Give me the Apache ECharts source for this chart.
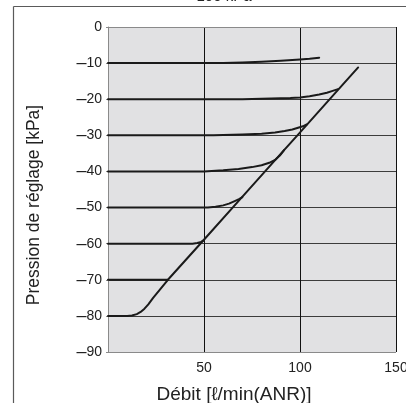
<!DOCTYPE html>
<html>
<head>
<meta charset="utf-8">
<script src="https://cdn.jsdelivr.net/npm/echarts@6/dist/echarts.min.js"></script>
<style>
html,body{margin:0;padding:0;background:#fff;}
#c{width:406px;height:403px;}
</style>
</head>
<body>
<div id="c"></div>
<script>
// ---- data ----
const titleText = "100 kPa";
const xName = "Débit [ℓ/min(ANR)]";
const yName = "Pression de réglage [kPa]";
const xTicks = [0, 50, 100, 150];
const yTicks = [-90, -80, -70, -60, -50, -40, -30, -20, -10, 0];

const s10 = [[0,-10],[40,-10],[60,-10],[70,-9.85],[80,-9.6],[90,-9.35],[100,-9.0],[105,-8.8],[110,-8.5]];
const s20 = [[0,-20],[70,-20],[85,-19.8],[95,-19.65],[100,-19.5],[105,-19.2],[110,-18.7],[114,-18.2],[117,-17.7],[119.8,-17.2]];
const s30 = [[0,-30],[55,-30],[70,-29.8],[80,-29.55],[87,-29.2],[92,-28.8],[96,-28.4],[99,-27.9],[101.5,-27.5],[103.5,-27.0]];
const s40 = [[0,-40],[50,-40],[60,-39.7],[68,-39.3],[75,-38.8],[80,-38.3],[84,-37.6],[87,-36.8],[89.5,-35.6],[91.7,-34.1]];
const s50 = [[0,-50],[52,-50],[56,-49.8],[60,-49.4],[63,-48.9],[66,-48.2],[68.5,-47.6],[70,-47.1]];
const s60 = [[0,-60],[44,-60],[46.5,-59.8],[48.5,-59.5],[50,-59.0]];
const s70 = [[0,-70],[31.2,-70]];
const s80 = [[0,-80],[10,-80],[12.5,-79.9],[15,-79.5],[17,-78.9],[19,-78.0],[21,-76.8],[23.5,-75.0],[31.2,-70.0],[49.5,-59.2],[69.8,-47.1],[91.7,-34.1],[99,-29.8],[119.8,-17.4],[130.3,-11.2]];
const seriesList = [s10, s20, s30, s40, s50, s60, s70, s80];

const chart = echarts.init(document.getElementById('c'), null, {renderer:'canvas'});
const fontFam = '"Liberation Sans", Arial, Helvetica, sans-serif';

const yColors = yTicks.map((v,i)=> (i===0||i===yTicks.length-1) ? '#8a8a8a' : '#3c3c3c');
const xColors = xTicks.map((v,i)=> i===0 ? '#8a8a8a' : '#111111');

function fmtNeg(v){
  if (v < 0) return '{d|–}' + Math.abs(v);
  return String(v);
}

chart.setOption({
  animation:false,
  backgroundColor:'#ffffff',
  grid:{left:108, right:10, top:27, bottom:51, show:true, backgroundColor:'#e1e1e3', borderWidth:0,
        containLabel:false, outerBoundsMode:'none'},
  xAxis:{
    type:'value', min:xTicks[0], max:xTicks[xTicks.length-1], interval:50,
    axisLine:{show:true, lineStyle:{color:'#8a8a8a', width:1}},
    axisTick:{show:false},
    splitLine:{show:true, lineStyle:{color:xColors, width:1}},
    axisLabel:{show:true, showMinLabel:false, showMaxLabel:true, hideOverlap:false, margin:9, color:'#222', fontSize:14, fontFamily:fontFam,
      formatter:(v)=> String(v)}
  },
  yAxis:{
    type:'value', min:yTicks[0], max:yTicks[yTicks.length-1], interval:10,
    axisLine:{show:true, lineStyle:{color:'#8a8a8a', width:1}},
    axisTick:{show:true, length:2, lineStyle:{color:'#8a8a8a'}},
    splitLine:{show:true, lineStyle:{color:yColors, width:1}},
    axisLabel:{show:true, margin:6, color:'#222', fontSize:14, fontFamily:fontFam,
      formatter:fmtNeg, rich:{d:{fontSize:18, fontFamily:fontFam, color:'#222'}}}
  },
  series: seriesList.map(d=>({
    type:'line', data:d, showSymbol:false, smooth:false,
    lineStyle:{color:'#1a1a1a', width:2, join:'round', cap:'round'}, z:5
  })),
  graphic:[
    {type:'line', shape:{x1:13.5,y1:6.5,x2:406,y2:6.5}, style:{stroke:'#5a5a5a', lineWidth:1.2}, z:10},
    {type:'line', shape:{x1:13.5,y1:6.5,x2:13.5,y2:403}, style:{stroke:'#5a5a5a', lineWidth:1.2}, z:10},
    {type:'line', shape:{x1:396.5,y1:27,x2:396.5,y2:352}, style:{stroke:'#111', lineWidth:1}, z:10},
    {type:'text', x:224, y:4, style:{text:titleText, align:'center', verticalAlign:'bottom', fontSize:15, fontFamily:fontFam, fill:'#222'}, z:10},
    {type:'text', x:234, y:395, style:{text:xName, align:'center', verticalAlign:'middle', fontSize:19, fontFamily:fontFam, fill:'#222'}, z:10},
    {type:'text', x:34, y:205, rotation:Math.PI/2, style:{text:yName, align:'center', verticalAlign:'middle', fontSize:17.5, fontFamily:fontFam, fill:'#222'}, z:10}
  ]
});
</script>
</body>
</html>
